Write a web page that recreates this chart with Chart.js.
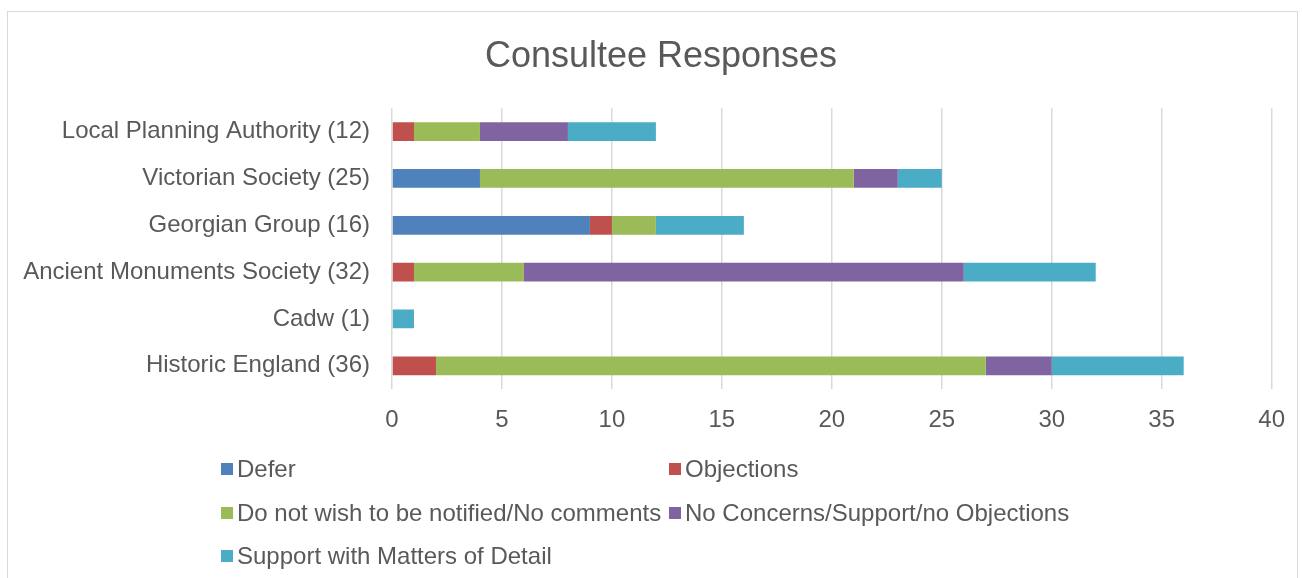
<!DOCTYPE html>
<html>
<head>
<meta charset="UTF-8">
<title>Consultee Responses</title>
<script src="https://cdn.jsdelivr.net/npm/chart.js@4.4.0/dist/chart.umd.min.js"></script>
<style>
  body { margin: 0; background: #fff; font-family: "Liberation Sans", Arial, sans-serif; }
  #wrap { position: relative; width: 1302px; height: 578px; overflow: hidden; }
  #frame { position: absolute; left: 7px; top: 11px; width: 1289px; height: 620px; border: 1px solid #d9d9d9; }
  #grafica { position: absolute; left: 0; top: 0; }
  #legend { position: absolute; left: 221px; top: 446px; display: grid;
            grid-template-columns: 448px auto; grid-template-rows: 45px 43px; grid-auto-rows: 44px; }
  .item { display: flex; align-items: center; font-size: 24px; color: #595959; white-space: nowrap; }
  .box { width: 12px; height: 12px; margin-right: 4px; flex: none; }
</style>
</head>
<body>
<div id="wrap">
  <div id="frame"></div>
  <canvas id="grafica" width="1302" height="578"></canvas>
  <div id="legend"></div>
</div>

<script>
// categorias (de arriba hacia abajo)
const categories = [
  'Local Planning Authority (12)',
  'Victorian Society (25)',
  'Georgian Group (16)',
  'Ancient Monuments Society (32)',
  'Cadw (1)',
  'Historic England (36)'
];

const seriesNames = [
  'Defer',
  'Objections',
  'Do not wish to be notified/No comments',
  'No Concerns/Support/no Objections',
  'Support with Matters of Detail'
];
const seriesColors = ['#4F81BD', '#C0504D', '#9BBB59', '#8064A2', '#4BACC6'];

const defer         = [0, 4, 9, 0, 0, 0];
const objections    = [1, 0, 1, 1, 0, 2];
const noComments    = [3, 17, 2, 5, 0, 25];
const noConcerns    = [4, 2, 0, 20, 0, 3];
const supportDetail = [4, 2, 4, 6, 1, 6];

const xMin = 0, xMax = 40, xStep = 5;

const seriesValues = [defer, objections, noComments, noConcerns, supportDetail];

Chart.defaults.font.family = '"Liberation Sans", Arial, sans-serif';
Chart.defaults.color = '#595959';

let miCanvas = document.getElementById('grafica').getContext('2d');

// el titulo va centrado algo a la derecha: se usa padding izquierdo,
// y luego se deja que las etiquetas del eje y usen todo el ancho
const labelAreaFix = {
  id: 'labelAreaFix',
  afterLayout(c) { c.scales.y.left = 0; }
};

var chart = new Chart(miCanvas, {
  type: 'bar',
  data: {
    labels: categories,
    datasets: seriesNames.map((name, i) => ({
      label: name,
      data: seriesValues[i],
      backgroundColor: seriesColors[i],
      borderWidth: 0,
      barPercentage: 0.4,
      categoryPercentage: 1
    }))
  },
  options: {
    indexAxis: 'y',
    responsive: false,
    animation: false,
    devicePixelRatio: 1,
    layout: { padding: { left: 50, right: 30, top: 0, bottom: 126 } },
    scales: {
      x: {
        stacked: true,
        min: xMin,
        max: xMax,
        ticks: { stepSize: xStep, font: { size: 24 }, color: '#595959', padding: 17 },
        grid: { color: '#d9d9d9', lineWidth: 1.5, drawTicks: false },
        border: { display: false }
      },
      y: {
        stacked: true,
        ticks: { font: { size: 24 }, color: '#595959', padding: 22 },
        grid: { display: false, drawTicks: false },
        border: { display: false },
        afterFit: (s) => { s.width = 342; }
      }
    },
    plugins: {
      legend: { display: false },
      tooltip: { enabled: false },
      title: {
        display: true,
        text: 'Consultee Responses',
        color: '#595959',
        font: { size: 36, weight: 'normal' },
        padding: { top: 35, bottom: 30 }
      }
    }
  },
  plugins: [labelAreaFix]
});

// leyenda en dos columnas como en el original
const legend = document.getElementById('legend');
chart.data.datasets.forEach((ds) => {
  const item = document.createElement('div');
  item.className = 'item';
  const box = document.createElement('span');
  box.className = 'box';
  box.style.background = ds.backgroundColor;
  item.appendChild(box);
  item.appendChild(document.createTextNode(ds.label));
  legend.appendChild(item);
});
</script>
</body>
</html>
